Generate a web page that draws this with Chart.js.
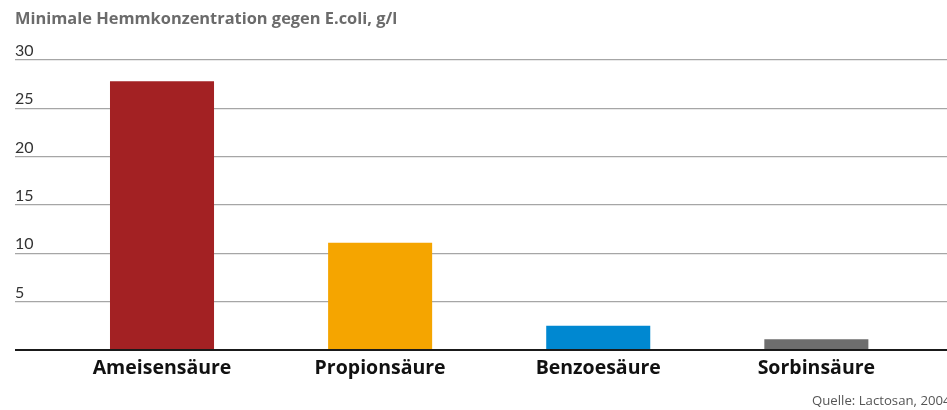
<!DOCTYPE html>
<html>
<head>
<meta charset="utf-8">
<script src="https://cdn.jsdelivr.net/npm/chart.js@4/dist/chart.umd.min.js"></script>
<style>
  html, body { margin: 0; padding: 0; background: #fff; }
  #wrap { position: relative; width: 947px; height: 410px; }
</style>
</head>
<body>
<div id="wrap"><canvas id="c" width="947" height="410"></canvas></div>
<script>
const titleText = 'Minimale Hemmkonzentration gegen E.coli, g/l';
const sourceText = 'Quelle: Lactosan, 2004';
const categories = ['Ameisensäure', 'Propionsäure', 'Benzoesäure', 'Sorbinsäure'];
const values = [27.8, 11.1, 2.5, 1.1];
const barColors = ['#a32123', '#f5a500', '#0088d1', '#6e6e6e'];
const yTicks = [0, 5, 10, 15, 20, 25, 30];

const FONT = '"Open Sans", Lato, sans-serif';
const FONT_L = 'Lato, "Open Sans", sans-serif';

const textPlugin = {
  id: 'texts',
  afterDraw(chart) {
    const ctx = chart.ctx;
    ctx.save();
    ctx.textAlign = 'left';
    ctx.textBaseline = 'alphabetic';
    ctx.fillStyle = '#6b6b6b';
    ctx.font = 'bold 16.4px ' + FONT;
    ctx.fillText(titleText, 15, 24);
    ctx.fillStyle = '#555';
    ctx.font = '13.2px ' + FONT;
    ctx.fillText(sourceText, 812, 405);
    ctx.restore();
  }
};

new Chart(document.getElementById('c'), {
  type: 'bar',
  data: {
    datasets: [{
      data: categories.map((c, i) => ({ x: i, y: values[i] })),
      backgroundColor: barColors,
      borderWidth: 0,
      barPercentage: 1,
      categoryPercentage: 0.477
    }]
  },
  options: {
    responsive: false,
    animation: false,
    events: [],
    layout: { padding: { left: 15, right: 0, top: 60, bottom: 0 } },
    plugins: { legend: { display: false }, title: { display: false }, tooltip: { enabled: false } },
    scales: {
      x: {
        type: 'linear',
        offset: false,
        min: -0.674,
        max: 3.599,
        grid: { display: false, drawTicks: false },
        border: { display: false },
        afterBuildTicks: s => { s.ticks = categories.map((c, i) => ({ value: i })); },
        afterFit: s => { s.height = 60; },
        ticks: {
          autoSkip: false,
          maxRotation: 0,
          padding: 7,
          color: '#111',
          font: { family: FONT, size: 19.5, weight: 'bold' },
          callback: v => categories[v]
        }
      },
      y: {
        min: 0,
        max: 30,
        afterBuildTicks: s => { s.ticks = yTicks.map(v => ({ value: v })); },
        afterFit: s => { s.width = 0; },
        grid: {
          drawTicks: false,
          color: ctx => ctx.tick && ctx.tick.value === 0 ? '#1a1a1a' : '#a6a6a6',
          lineWidth: ctx => ctx.tick && ctx.tick.value === 0 ? 2 : 1.3
        },
        border: { display: false },
        ticks: {
          mirror: true,
          padding: 0,
          labelOffset: -9,
          color: '#333',
          font: { family: FONT_L, size: 16 },
          callback: v => v === 0 ? '' : String(v)
        }
      }
    }
  },
  plugins: [textPlugin]
});
</script>
</body>
</html>
